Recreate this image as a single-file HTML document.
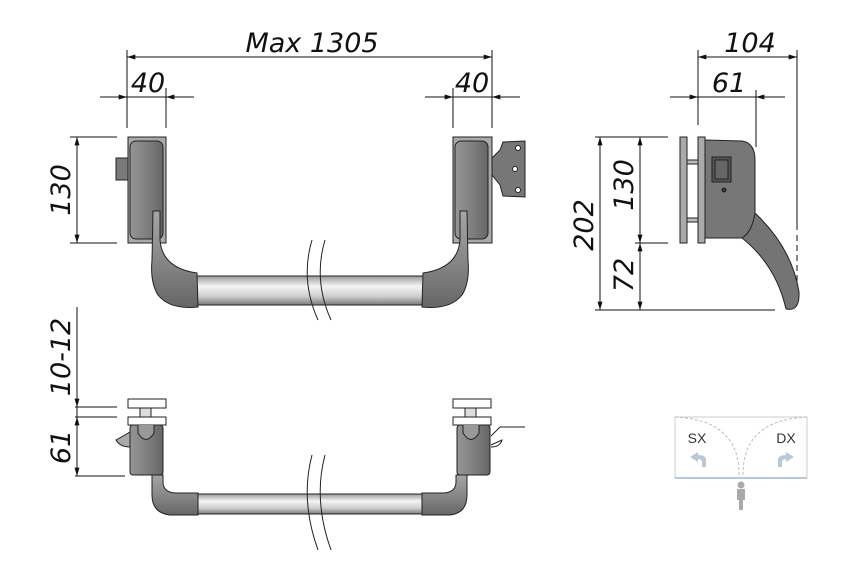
<!DOCTYPE html>
<html><head><meta charset="utf-8"><style>html,body{margin:0;padding:0;background:#fff}svg{display:block}</style></head><body>
<svg width="862" height="574" viewBox="0 0 862 574" xmlns="http://www.w3.org/2000/svg" font-family="DejaVu Sans, Liberation Sans, sans-serif" font-style="italic">
<defs>
<linearGradient id="bar" x1="0" y1="0" x2="0" y2="1"><stop offset="0" stop-color="#9a9a9a"/><stop offset="0.35" stop-color="#f4f4f4"/><stop offset="0.7" stop-color="#cfcfcf"/><stop offset="1" stop-color="#7a7a7a"/></linearGradient>
<linearGradient id="dk" x1="0" y1="0" x2="1" y2="0"><stop offset="0" stop-color="#959595"/><stop offset="0.5" stop-color="#808080"/><stop offset="1" stop-color="#666"/></linearGradient>
<linearGradient id="elb" x1="0" y1="0" x2="0" y2="1"><stop offset="0" stop-color="#a5a5a5"/><stop offset="0.5" stop-color="#888"/><stop offset="1" stop-color="#666"/></linearGradient>
<marker id="a" viewBox="0 0 10 6" refX="10" refY="3" markerWidth="14" markerHeight="5" markerUnits="userSpaceOnUse" orient="auto"><path d="M0,0L10,3L0,6z" fill="#111"/></marker>
</defs>
<g stroke="#111" stroke-width="1" fill="none">
<line x1="127" y1="50" x2="127" y2="128"/><line x1="492" y1="50" x2="492" y2="128"/>
<line x1="310" y1="57" x2="127" y2="57" marker-end="url(#a)"/><line x1="310" y1="57" x2="492" y2="57" marker-end="url(#a)"/>
<line x1="166" y1="88" x2="166" y2="128"/><line x1="453" y1="88" x2="453" y2="128"/>
<line x1="100" y1="97" x2="127" y2="97" marker-end="url(#a)"/><line x1="194" y1="97" x2="166" y2="97" marker-end="url(#a)"/><line x1="127" y1="97" x2="166" y2="97"/>
<line x1="425" y1="97" x2="453" y2="97" marker-end="url(#a)"/><line x1="520" y1="97" x2="492" y2="97" marker-end="url(#a)"/><line x1="453" y1="97" x2="492" y2="97"/>
<line x1="70" y1="137" x2="117" y2="137"/><line x1="70" y1="243" x2="117" y2="243"/>
<line x1="77" y1="190" x2="77" y2="137" marker-end="url(#a)"/><line x1="77" y1="190" x2="77" y2="243" marker-end="url(#a)"/>
<line x1="698" y1="50" x2="698" y2="125"/><line x1="797" y1="50" x2="797" y2="230"/><line x1="797" y1="235" x2="797" y2="305" stroke-dasharray="6,4"/>
<line x1="748" y1="57" x2="698" y2="57" marker-end="url(#a)"/><line x1="748" y1="57" x2="797" y2="57" marker-end="url(#a)"/>
<line x1="756" y1="90" x2="756" y2="147"/>
<line x1="670" y1="97" x2="698" y2="97" marker-end="url(#a)"/><line x1="785" y1="97" x2="756" y2="97" marker-end="url(#a)"/><line x1="698" y1="97" x2="756" y2="97"/>
<line x1="595" y1="137" x2="668" y2="137"/><line x1="635" y1="243" x2="668" y2="243"/><line x1="595" y1="310" x2="775" y2="310"/>
<line x1="600" y1="220" x2="600" y2="137" marker-end="url(#a)"/><line x1="600" y1="220" x2="600" y2="310" marker-end="url(#a)"/>
<line x1="640" y1="190" x2="640" y2="137" marker-end="url(#a)"/><line x1="640" y1="190" x2="640" y2="243" marker-end="url(#a)"/>
<line x1="640" y1="275" x2="640" y2="243" marker-end="url(#a)"/><line x1="640" y1="275" x2="640" y2="310" marker-end="url(#a)"/>
<line x1="77" y1="307" x2="77" y2="407" marker-end="url(#a)"/><line x1="77" y1="407" x2="77" y2="417"/>
<line x1="77" y1="440" x2="77" y2="417" marker-end="url(#a)"/><line x1="77" y1="440" x2="77" y2="476" marker-end="url(#a)"/>
<line x1="75" y1="407" x2="117" y2="407"/><line x1="75" y1="417" x2="117" y2="417"/><line x1="75" y1="476" x2="125" y2="476"/>
</g>
<g font-size="27" fill="#111">
<text x="312" y="52" text-anchor="middle">Max 1305</text>
<text x="148" y="92" text-anchor="middle">40</text>
<text x="472" y="92" text-anchor="middle">40</text>
<text x="750" y="52" text-anchor="middle">104</text>
<text x="729" y="92" text-anchor="middle">61</text>
<text transform="translate(70,190) rotate(-90)" text-anchor="middle">130</text>
<text transform="translate(593,225) rotate(-90)" text-anchor="middle">202</text>
<text transform="translate(633,185) rotate(-90)" text-anchor="middle">130</text>
<text transform="translate(633,275) rotate(-90)" text-anchor="middle">72</text>
<text transform="translate(70,357) rotate(-90)" text-anchor="middle">10-12</text>
<text transform="translate(70,447) rotate(-90)" text-anchor="middle">61</text>
</g>
<g stroke="#222" stroke-width="1">
<rect x="116" y="158" width="14" height="22" fill="#7a7a7a"/>
<rect x="128" y="137" width="38" height="106" fill="#aaa"/>
<rect x="130" y="141" width="33" height="98" rx="6" fill="url(#dk)"/>
<rect x="453" y="137" width="39" height="106" fill="#aaa"/>
<rect x="455" y="141" width="33" height="98" rx="6" fill="url(#dk)"/>
<path d="M492,158 L500,150 L503,142 L525,141 L525,197 L503,196 L500,185 L492,175 Z" fill="#777"/>
<circle cx="518" cy="148" r="2.5" fill="#fff"/><circle cx="515" cy="169" r="2.5" fill="#fff"/><circle cx="518" cy="190" r="2.5" fill="#fff"/>
<rect x="197" y="276" width="226" height="29" fill="url(#bar)"/>
<path d="M153,211 L160,211 L160,240 Q162,268 197,273 L198,307 Q170,310 158,295 Q150,282 152,260 Z" fill="url(#elb)"/>
<path d="M467,211 L460,211 L460,240 Q458,268 423,273 L422,307 Q450,310 462,295 Q470,282 468,260 Z" fill="url(#elb)"/>
</g>
<path d="M312,240 Q300,280 318,320 M325,240 Q313,280 331,320" stroke="#222" fill="none"/>
<g stroke="#222" stroke-width="1">
<rect x="687" y="160" width="11" height="4" fill="#bbb"/><rect x="687" y="218" width="11" height="4" fill="#bbb"/>
<rect x="680" y="137" width="7" height="106" fill="#aaa"/>
<rect x="698" y="137" width="7" height="106" fill="#aaa"/>
<path d="M705,140 L742,141 Q755,143 755,160 L755,225 Q754,238 740,238 L705,238 Z" fill="#777"/>
<rect x="712" y="157" width="19" height="25" fill="#555"/><rect x="715" y="160" width="13" height="19" fill="#666"/>
<circle cx="724" cy="190" r="2" fill="#333"/>
<path d="M755,213 Q792,248 799,292 Q800,312 786,309 Q776,265 742,238 Q752,232 755,213 Z" fill="#747474"/>
</g>
<g stroke="#222" stroke-width="1">
<rect x="128" y="399" width="38" height="9" fill="#fff"/>
<rect x="140" y="408" width="11" height="9" fill="#ddd"/>
<rect x="128" y="417" width="38" height="8" fill="#fff"/>
<path d="M116,440 L130,432 L130,447 Q120,447 116,440 Z" fill="#aaa"/>
<rect x="130" y="425" width="33" height="50" rx="3" fill="url(#dk)"/>
<path d="M138,425 L138,433 Q146,446 154,433 L154,425" fill="#999"/>
<rect x="453" y="399" width="38" height="9" fill="#fff"/>
<rect x="465" y="408" width="11" height="9" fill="#ddd"/>
<rect x="453" y="417" width="38" height="8" fill="#fff"/>
<path d="M491,436 L500,427 L525,427 M491,445 L502,440 Q500,447 491,447" fill="none"/>
<rect x="457" y="425" width="33" height="50" rx="3" fill="url(#dk)"/>
<path d="M463,425 L463,433 Q471,446 479,433 L479,425" fill="#999"/>
<rect x="197" y="494" width="226" height="20" fill="url(#bar)"/>
<path d="M152,475 L163,475 L163,482 Q163,492 175,493 L198,493 L198,515 L170,515 Q152,513 152,495 Z" fill="url(#elb)"/>
<path d="M467,475 L456,475 L456,482 Q456,492 444,493 L422,493 L422,515 L450,515 Q467,513 467,495 Z" fill="url(#elb)"/>
</g>
<path d="M312,455 Q300,500 318,550 M325,455 Q313,500 331,550" stroke="#222" fill="none"/>
<g>
<rect x="675" y="417" width="132" height="61" fill="#fff" stroke="#ccc"/>
<line x1="675" y1="478" x2="807" y2="478" stroke="#b8c8d6" stroke-width="2"/>
<path d="M675,417 Q740,420 739,476 M807,417 Q742,420 743,476" stroke="#bbb" fill="none" stroke-dasharray="3,2"/>
<text x="697" y="443" font-style="normal" font-family="Liberation Sans, sans-serif" font-size="14" fill="#333" text-anchor="middle">SX</text>
<text x="786" y="443" font-style="normal" font-family="Liberation Sans, sans-serif" font-size="14" fill="#333" text-anchor="middle">DX</text>
<path d="M706,467 L706,460 Q706,455 698,455 L698,452 L690,457 L698,462 L698,459 Q702,459 702,462 L702,467 Z" fill="#b8c8d6"/>
<path d="M778,467 L778,460 Q778,455 786,455 L786,452 L794,457 L786,462 L786,459 Q782,459 782,462 L782,467 Z" fill="#b8c8d6"/>
<circle cx="741" cy="485" r="3.5" fill="#aaa"/>
<rect x="737" y="489" width="8" height="11" fill="#aaa"/>
<rect x="739" y="500" width="4" height="10" fill="#aaa"/>
</g>
</svg>
</body></html>
